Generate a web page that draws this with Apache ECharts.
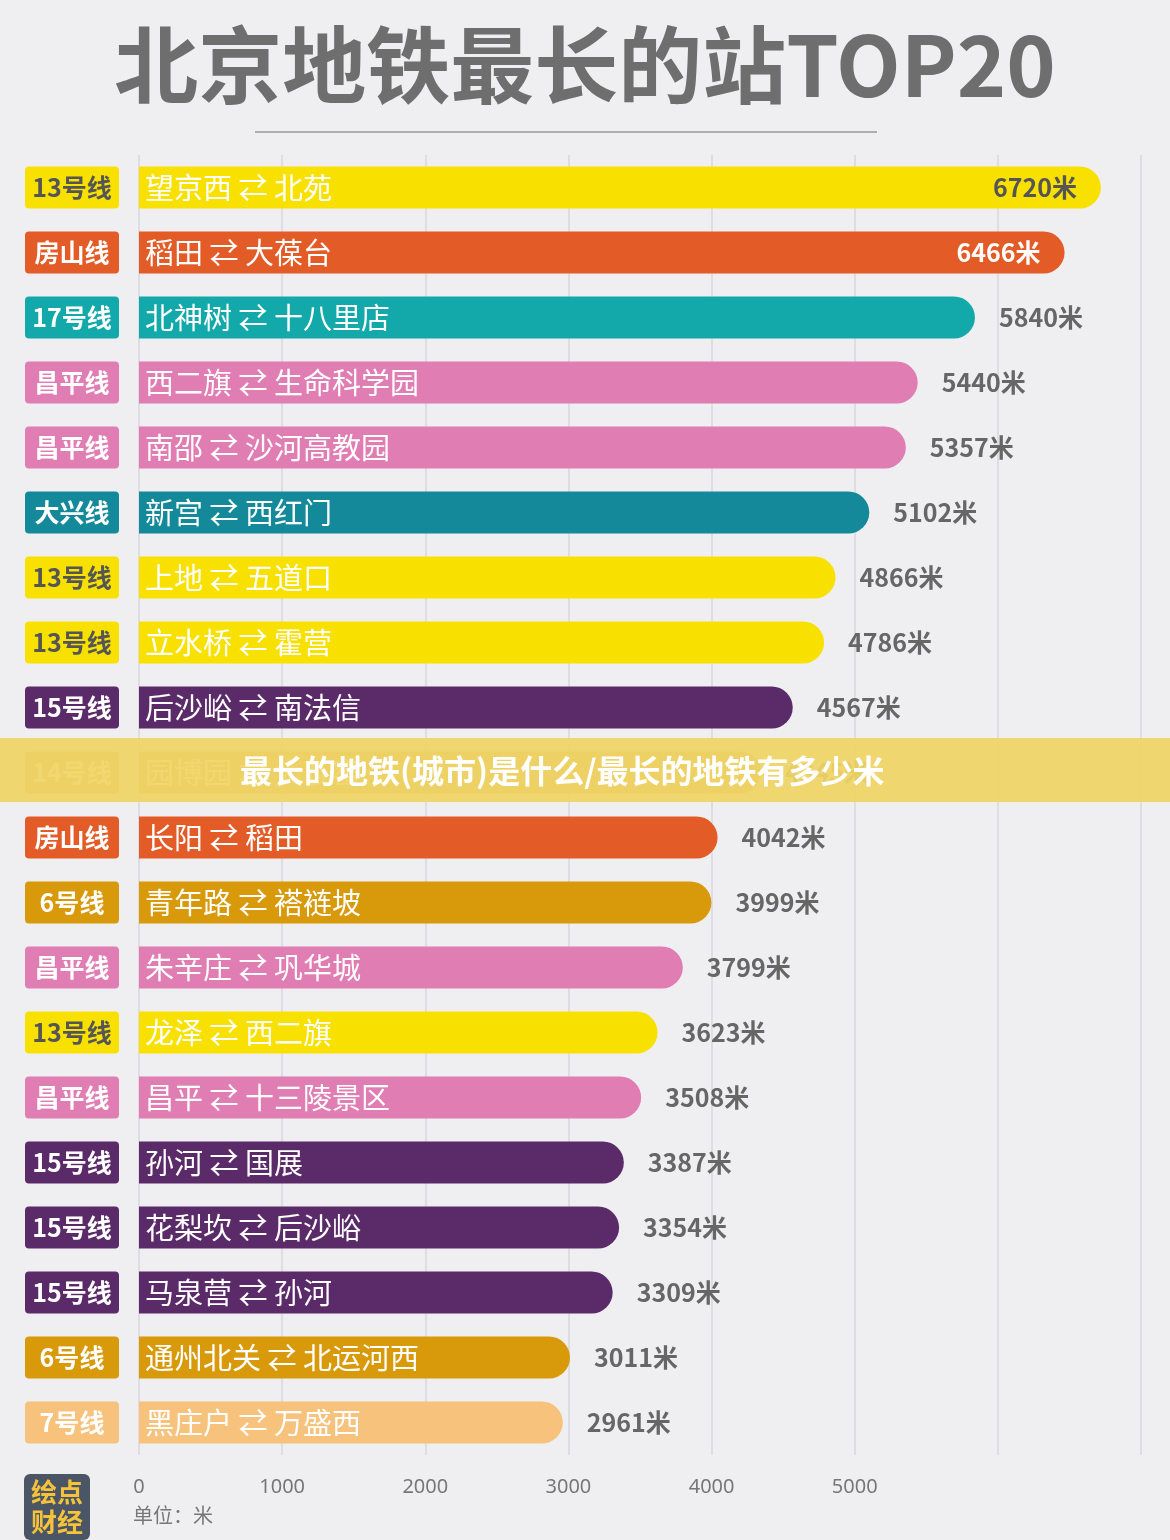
<!DOCTYPE html><html><head><meta charset="utf-8"><script src="https://cdn.jsdelivr.net/npm/echarts@6/dist/echarts.min.js"></script>
<style>body{margin:0;background:#efeff1}#c{width:1170px;height:1540px}</style></head><body><div id="c"></div><script>
const lines=['13号线','房山线','17号线','昌平线','昌平线','大兴线','13号线','13号线','15号线','14号线','房山线','6号线','昌平线','13号线','昌平线','15号线','15号线','15号线','6号线','7号线'];
const stations=['望京西 ⇄ 北苑','稻田 ⇄ 大葆台','北神树 ⇄ 十八里店','西二旗 ⇄ 生命科学园','南邵 ⇄ 沙河高教园','新宫 ⇄ 西红门','上地 ⇄ 五道口','立水桥 ⇄ 霍营','后沙峪 ⇄ 南法信','园博园 ⇄ 大瓦窑','长阳 ⇄ 稻田','青年路 ⇄ 褡裢坡','朱辛庄 ⇄ 巩华城','龙泽 ⇄ 西二旗','昌平 ⇄ 十三陵景区','孙河 ⇄ 国展','花梨坎 ⇄ 后沙峪','马泉营 ⇄ 孙河','通州北关 ⇄ 北运河西','黑庄户 ⇄ 万盛西'];
const values=[6720,6466,5840,5440,5357,5102,4866,4786,4567,4345,4042,3999,3799,3623,3508,3387,3354,3309,3011,2961];
const lineColor={'13号线':'#f8e100','房山线':'#e35b26','17号线':'#13a9aa','昌平线':'#e07db2','大兴线':'#14899a','15号线':'#5b2b69','14号线':'#d4a96e','6号线':'#d8990b','7号线':'#f6c27c'};
const darkText={'13号线':true};
const rich={};
lines.forEach((l,i)=>{rich['b'+i]={backgroundColor:lineColor[l],color:darkText[l]?'#555':'#fff',fontSize:25,fontWeight:'bold',width:94,height:42,align:'center',borderRadius:4,fontFamily:'Noto Sans CJK SC'};});
const ch=echarts.init(document.getElementById('c'));
ch.setOption({
backgroundColor:'#efeff1',
title:{text:'北京地铁最长的站TOP20',left:'center',top:18,textStyle:{fontSize:84,fontWeight:'bold',color:'#6e6e6e',fontFamily:'Noto Sans CJK SC'}},
grid:{left:139,right:29,top:155,bottom:85},
xAxis:{type:'value',min:0,max:7000,interval:1000,position:'bottom',
 axisLine:{show:false},axisTick:{show:false},splitLine:{lineStyle:{color:'#d8d8dc',width:1.5}},
 axisLabel:{formatter:v=>v<=5000?String(v):'',color:'#777',fontSize:20,margin:22,align:'center',fontFamily:'Noto Sans'}},
yAxis:{type:'category',inverse:true,data:lines,axisLine:{show:false},axisTick:{show:false},
 axisLabel:{margin:20,formatter:(v,i)=>'{b'+i+'|'+v+'}',rich}},
series:[{type:'bar',barWidth:42,data:values.map((v,i)=>({value:v,itemStyle:{color:lineColor[lines[i]],borderRadius:[0,21,21,0]},
  label:{show:true,position:i<2?'insideRight':'right',distance:24,color:i==0?'#555':(i==1?'#fff':'#666'),fontSize:25,fontWeight:'bold',formatter:'{c}米',fontFamily:'Noto Sans CJK SC'}})),
 z:3},
{type:'bar',barGap:'-100%',barWidth:42,data:values.map(v=>({value:v,itemStyle:{color:'transparent'}})),
 label:{show:true,position:'insideLeft',distance:6,color:'#fff',fontSize:29,formatter:p=>stations[p.dataIndex],fontFamily:'Noto Sans CJK SC'},z:4}],
graphic:[
 {type:'line',shape:{x1:255,y1:132,x2:877,y2:132},style:{stroke:'#999',lineWidth:1.5}},
 {type:'rect',shape:{x:0,y:738,width:1170,height:64},style:{fill:'rgba(240,212,100,0.93)'},z:100},
 {type:'text',x:240,y:771,style:{text:'最长的地铁(城市)是什么/最长的地铁有多少米',fill:'#fff',fontSize:32,fontWeight:'bold',align:'left',verticalAlign:'middle',fontFamily:'Noto Sans CJK SC'},z:101},
 {type:'text',x:133,y:1505,style:{text:'单位：米',fill:'#777',fontSize:20,fontFamily:'Noto Sans CJK SC'}},
 {type:'rect',shape:{x:24,y:1474,width:66,height:66,r:6},style:{fill:'#4a5565'}},
 {type:'text',x:57,y:1507,style:{text:'绘点\n财经',fill:'#f5c23c',fontSize:26,fontWeight:'bold',align:'center',verticalAlign:'middle',lineHeight:30,fontFamily:'Noto Sans CJK SC'}}
]});
</script></body></html>
